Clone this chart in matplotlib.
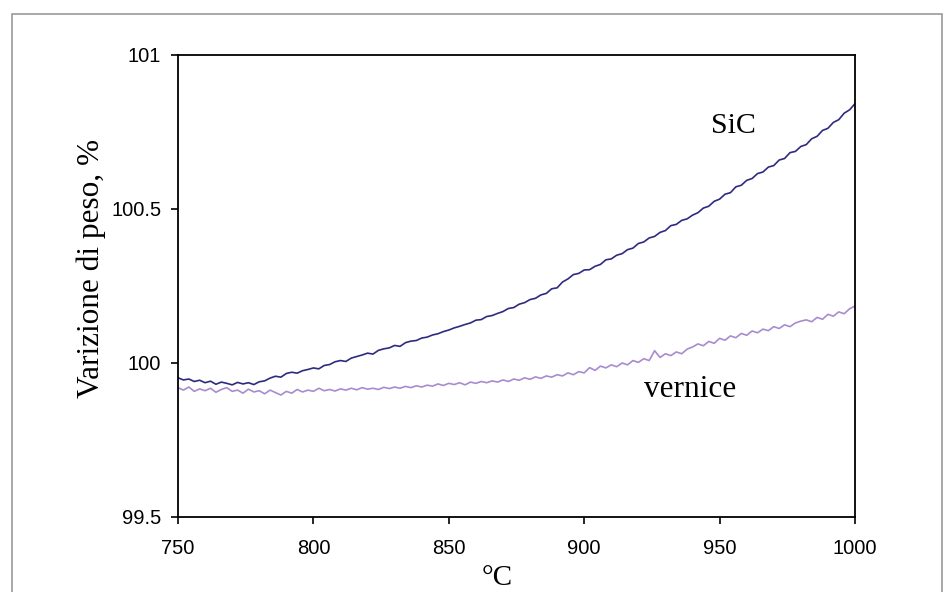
"""Weight change vs temperature for SiC and painted (vernice) samples."""
import matplotlib

matplotlib.use("Agg")
import matplotlib.pyplot as plt
import numpy as np
from matplotlib.patches import Rectangle

# temperature grid, deg C (one reading every 2 deg)
temperature = np.arange(750, 1001, 2)

sic = [
    99.952, 99.945, 99.948, 99.940, 99.944, 99.936, 99.941, 99.931, 99.938, 99.934,
    99.929, 99.937, 99.932, 99.936, 99.930, 99.939, 99.942, 99.951, 99.957, 99.954,
    99.966, 99.970, 99.967, 99.975, 99.979, 99.984, 99.981, 99.992, 99.995, 100.004,
    100.008, 100.005, 100.016, 100.021, 100.026, 100.032, 100.029, 100.041, 100.046, 100.049,
    100.057, 100.054, 100.066, 100.071, 100.073, 100.081, 100.084, 100.091, 100.095, 100.102,
    100.107, 100.114, 100.119, 100.125, 100.130, 100.139, 100.141, 100.151, 100.154, 100.161,
    100.167, 100.177, 100.180, 100.191, 100.196, 100.206, 100.210, 100.221, 100.226, 100.241,
    100.244, 100.263, 100.273, 100.287, 100.291, 100.302, 100.303, 100.314, 100.320, 100.335,
    100.338, 100.350, 100.355, 100.368, 100.373, 100.388, 100.393, 100.406, 100.411, 100.424,
    100.430, 100.446, 100.450, 100.463, 100.468, 100.480, 100.488, 100.503, 100.509, 100.525,
    100.532, 100.548, 100.553, 100.572, 100.577, 100.593, 100.599, 100.615, 100.620, 100.636,
    100.641, 100.659, 100.664, 100.683, 100.687, 100.703, 100.709, 100.728, 100.736, 100.755,
    100.762, 100.781, 100.790, 100.811, 100.822, 100.842,
]

vernice = [
    99.920, 99.912, 99.922, 99.908, 99.916, 99.910, 99.918, 99.905, 99.914, 99.920,
    99.908, 99.912, 99.902, 99.915, 99.906, 99.910, 99.900, 99.912, 99.904, 99.896,
    99.908, 99.902, 99.914, 99.906, 99.912, 99.908, 99.918, 99.910, 99.914, 99.909,
    99.916, 99.912, 99.918, 99.913, 99.920, 99.915, 99.918, 99.914, 99.921, 99.917,
    99.922, 99.918, 99.924, 99.920, 99.926, 99.922, 99.928, 99.925, 99.932, 99.927,
    99.934, 99.930, 99.936, 99.929, 99.938, 99.934, 99.940, 99.936, 99.942, 99.938,
    99.945, 99.940, 99.948, 99.944, 99.952, 99.947, 99.955, 99.950, 99.958, 99.954,
    99.962, 99.958, 99.968, 99.962, 99.972, 99.968, 99.985, 99.976, 99.990, 99.984,
    99.994, 99.988, 100.000, 99.994, 100.008, 100.002, 100.014, 100.008, 100.040, 100.018,
    100.030, 100.024, 100.036, 100.030, 100.045, 100.052, 100.062, 100.056, 100.070, 100.064,
    100.080, 100.074, 100.088, 100.082, 100.096, 100.090, 100.104, 100.098, 100.110, 100.105,
    100.118, 100.112, 100.124, 100.118, 100.130, 100.136, 100.140, 100.134, 100.148, 100.142,
    100.158, 100.152, 100.166, 100.160, 100.176, 100.185,
]

x_ticks = [750, 800, 850, 900, 950, 1000]
y_ticks = [99.5, 100, 100.5, 101]
y_tick_labels = ["99.5", "100", "100.5", "101"]

SERIF = "Liberation Serif"
SANS = "Liberation Sans"

fig = plt.figure(figsize=(9.52, 5.92), dpi=100)
# grey frame around the chart (bottom edge runs off the image)
fig.patches.append(Rectangle((12 / 952, -0.05), 930 / 952, 1 - 14 / 592 + 0.05,
                             transform=fig.transFigure, fill=False,
                             edgecolor="#9a9a9a", linewidth=1.2))

ax = fig.add_axes([178 / 952, 1 - 517 / 592, 677 / 952, 462 / 592])
ax.plot(temperature, sic, color="#2e2a80", linewidth=1.2)
ax.plot(temperature, vernice, color="#a98bd0", linewidth=1.2)

ax.set_xlim(750, 1000)
ax.set_ylim(99.5, 101)
ax.set_xticks(x_ticks)
ax.set_yticks(y_ticks)
ax.set_yticklabels(y_tick_labels)
ax.tick_params(direction="out", length=5, width=1.2, color="black")
ax.tick_params(axis="x", pad=11)
ax.tick_params(axis="y", pad=7)
for lab in ax.get_xticklabels() + ax.get_yticklabels():
    lab.set_fontfamily(SANS)
    lab.set_fontsize(14.5)
for side in ax.spines.values():
    side.set_linewidth(1.3)

ax.set_xlabel("°C", fontfamily=SERIF, fontsize=21)
ax.xaxis.set_label_coords((497 - 178) / 677, (517 - 565) / 462)
ax.set_ylabel("Varizione di peso, %", fontfamily=SERIF, fontsize=22.5)
ax.yaxis.set_label_coords((106 - 178) / 677, (517 - 268) / 462)

ax.text(955, 100.77, "SiC", fontfamily=SERIF, fontsize=21.5, ha="center", va="center")
ax.text(939, 99.915, "vernice", fontfamily=SERIF, fontsize=22.5, ha="center", va="center")

fig.savefig("out.png", dpi=100)
plt.close(fig)
